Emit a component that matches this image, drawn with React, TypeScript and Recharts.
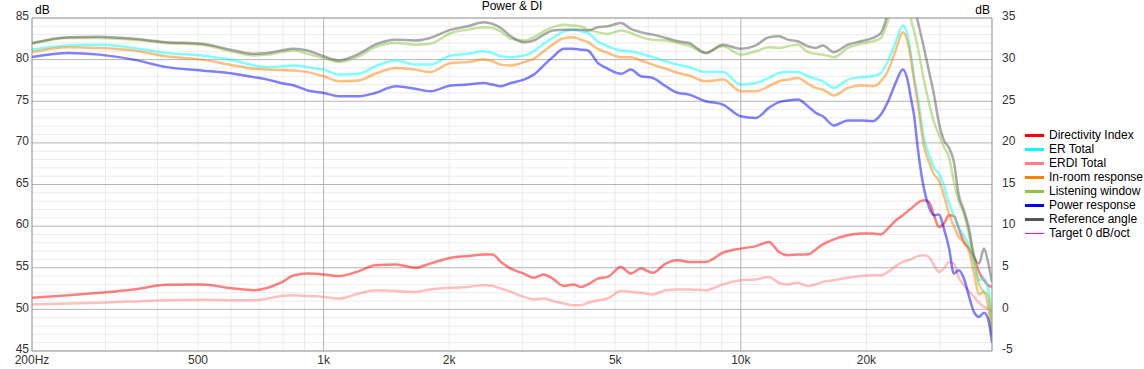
import { LineChart, Line, XAxis, YAxis, CartesianGrid, ReferenceLine } from 'recharts';

// frequency points (Hz)
const FREQS = [
  200, 245, 290, 350, 420, 510, 610, 680, 735, 790,
  850, 915, 1000, 1090, 1215, 1330, 1490, 1660, 1800, 2020,
  2215, 2420, 2540, 2660, 2810, 3020, 3190, 3370, 3540, 3770,
  3960, 4130, 4300, 4540, 4800, 5160, 5450, 5760, 6150, 6610,
  7060, 7510, 8240, 9060, 10000, 10870, 11670, 12340, 12970, 13700,
  14480, 15130, 15730, 16710, 18060, 19400, 20730, 21660, 22510, 23540,
  24460, 25140, 25560, 26000, 26580, 27480, 28250, 29040, 29850, 30680,
  31540, 32420, 33300, 34250, 35220, 36210, 37230, 38270, 39130, 40000,
];

// left axis, dB SPL
const REFERENCE = [
  82.0, 82.7, 82.75, 82.5, 82.1, 81.9, 81.1, 80.7, 80.8, 81.1,
  81.3, 81.1, 80.4, 79.9, 80.7, 81.8, 82.4, 82.3, 82.6, 83.6,
  84.0, 84.5, 84.3, 83.8, 82.8, 82.1, 82.3, 83.0, 83.5, 83.6,
  83.6, 83.6, 83.5, 83.9, 84.0, 84.4, 83.7, 83.3, 83.0, 82.6,
  82.2, 82.0, 80.8, 81.8, 81.3, 81.7, 82.7, 82.8, 82.4, 82.2,
  81.6, 81.4, 81.7, 80.9, 81.8, 82.2, 82.6, 83.2, 85.5, 88.5,
  91.0, 90.5, 89.0, 86.5, 84.5, 81.4, 78.6, 75.8, 72.4, 70.3,
  69.4, 67.7, 63.7, 61.9, 59.7, 56.5, 55.5, 57.3, 55.7, 53.3,
];
const LISTENING = [
  81.9, 82.6, 82.6, 82.4, 82.0, 81.8, 80.9, 80.5, 80.6, 80.9,
  81.1, 80.7, 80.2, 79.7, 80.4, 81.5, 82.0, 81.8, 81.9, 83.2,
  83.6, 83.9, 83.8, 83.4, 82.5, 82.3, 82.7, 83.4, 83.9, 84.2,
  84.1, 84.0, 83.6, 83.3, 83.1, 83.5, 83.2, 82.7, 82.4, 82.3,
  82.0, 81.7, 80.8, 81.6, 80.6, 81.0, 81.5, 81.4, 81.6, 81.8,
  80.9, 80.7, 80.6, 80.3, 81.4, 81.9, 82.2, 82.6, 84.6, 87.0,
  89.0, 88.0, 85.0, 83.5, 81.4, 77.5, 74.8, 72.5, 71.0, 69.5,
  68.3, 65.3, 63.0, 61.5, 59.0, 56.0, 53.0, 52.1, 51.7, 46.8,
];
const ER_TOTAL = [
  81.2, 81.7, 81.8, 81.4, 80.8, 80.5, 79.9, 79.3, 79.1, 79.2,
  79.3, 79.1, 78.8, 78.2, 78.3, 79.2, 79.9, 79.4, 79.4, 80.5,
  80.7, 81.0, 80.8, 80.4, 80.3, 80.5, 81.0, 81.9, 82.6, 83.4,
  83.6, 83.4, 83.2, 82.2, 81.6, 81.1, 81.0, 80.7, 80.3, 79.8,
  79.4, 79.1, 78.5, 78.5, 77.0, 77.2, 77.8, 78.4, 78.5, 78.5,
  78.0, 77.7, 77.4, 76.6, 77.6, 77.9, 78.0, 78.4, 79.8, 82.2,
  84.1, 82.8, 80.6, 78.0, 75.4, 70.5, 68.6, 67.0, 66.3, 64.9,
  62.8, 61.2, 59.8, 58.9, 57.6, 55.6, 53.5, 53.7, 52.5, 49.3,
];
const IN_ROOM = [
  80.9, 81.5, 81.4, 81.1, 80.4, 80.0, 79.3, 78.9, 78.8, 78.75,
  78.7, 78.5, 78.0, 77.4, 77.5, 78.3, 79.0, 78.8, 78.5, 79.6,
  79.7, 80.0, 79.8, 79.4, 79.3, 79.7, 80.1, 81.0, 81.8, 82.6,
  82.7, 82.4, 82.1, 81.3, 80.8, 80.3, 80.3, 79.9, 79.4, 78.9,
  78.4, 78.1, 77.4, 77.6, 76.2, 76.2, 76.8, 77.4, 77.6, 77.8,
  77.1, 76.6, 76.4, 75.7, 76.6, 76.9, 76.8, 77.4, 78.6, 81.2,
  83.3, 82.0, 80.2, 77.6, 74.6, 69.6, 67.7, 66.2, 65.5, 63.7,
  61.5, 60.0, 58.7, 58.1, 57.0, 54.3, 51.8, 52.1, 50.5, 46.8,
];
const POWER = [
  80.3, 80.8, 80.6, 80.0, 79.1, 78.7, 78.3, 77.9, 77.6, 77.2,
  76.9, 76.3, 76.0, 75.6, 75.6, 76.0, 76.8, 76.5, 76.2, 76.9,
  77.0, 77.2, 77.0, 76.8, 77.2, 77.6, 78.2, 79.3, 80.3, 81.3,
  81.3, 81.2, 81.1, 79.6, 78.9, 78.3, 78.8, 78.0, 77.8, 76.8,
  76.0, 75.8, 75.0, 74.6, 73.2, 73.0, 74.2, 74.9, 75.1, 75.2,
  74.4, 73.6, 73.2, 72.1, 72.7, 72.7, 72.6, 73.4, 74.9, 77.3,
  78.8, 77.4, 75.4, 73.4, 69.2, 64.5, 62.3, 61.3, 61.4, 59.7,
  57.4, 54.3, 54.7, 53.7, 51.6, 49.7, 49.1, 49.6, 48.9, 46.0,
];

// right axis, dB
const DI = [
  1.4, 1.7, 2.0, 2.4, 2.95, 3.0, 2.5, 2.3, 2.6, 3.2,
  4.1, 4.3, 4.2, 4.0, 4.6, 5.3, 5.4, 5.0, 5.5, 6.2,
  6.4, 6.6, 6.6, 5.7, 4.9, 4.3, 3.8, 4.2, 3.7, 2.8,
  3.0, 2.7, 3.0, 3.7, 3.9, 5.1, 4.3, 4.9, 4.4, 5.5,
  5.9, 5.7, 5.7, 6.8, 7.3, 7.6, 8.1, 6.9, 6.5, 6.6,
  6.6, 7.2, 7.8, 8.4, 8.9, 9.1, 9.1, 9.0, 9.7, 10.7,
  11.3, 11.8, 12.1, 12.4, 12.8, 13.1, 12.9, 11.3, 9.9, 10.3,
  11.3, 11.2, 9.7, 8.1, 7.3, 6.2, 4.5, 3.5, 2.9, 2.7,
];
const ERDI = [
  0.6, 0.7, 0.8, 0.95, 1.1, 1.15, 1.1, 1.1, 1.3, 1.6,
  1.7, 1.6, 1.5, 1.3, 1.9, 2.3, 2.2, 2.1, 2.4, 2.6,
  2.7, 2.9, 2.8, 2.5, 2.1, 1.5, 1.2, 1.3, 1.0, 0.7,
  0.5, 0.5, 0.8, 1.1, 1.3, 2.2, 2.1, 2.0, 1.8, 2.3,
  2.4, 2.4, 2.3, 3.0, 3.5, 3.6, 3.9, 3.2, 3.0, 3.2,
  2.8, 3.0, 3.3, 3.5, 3.8, 4.0, 4.1, 4.1, 4.5, 5.2,
  5.7, 5.9, 6.0, 6.2, 6.4, 6.5, 6.3, 5.3, 4.5, 4.9,
  5.7, 5.5, 3.8, 2.9, 2.2, 1.5, 0.8, 0.3, 0.1, -0.3,
];

const X_TICKS = [200, 500, 1000, 2000, 5000, 10000, 20000];
const LEFT_TICKS = [45, 50, 55, 60, 65, 70, 75, 80, 85];
const RIGHT_TICKS = [-5, 0, 5, 10, 15, 20, 25, 30, 35];
const MINOR_F = [300, 400, 500, 600, 700, 800, 900, 2000, 3000, 4000, 5000, 6000, 7000, 8000, 9000, 20000, 30000];
const MAJOR_F = [1000, 10000];
const MINOR_DB = [
  46, 47, 48, 49, 51, 52, 53, 54, 56, 57, 58, 59, 61, 62, 63, 64, 66, 67, 68, 69,
  71, 72, 73, 74, 76, 77, 78, 79, 81, 82, 83, 84,
];
const MAJOR_DB = [50, 55, 60, 65, 70, 75, 80];

const SERIES = [
  { key: 'di', name: 'Directivity Index', color: '#ff0000', axis: 'right' },
  { key: 'er', name: 'ER Total', color: '#00ffff', axis: 'left' },
  { key: 'erdi', name: 'ERDI Total', color: '#ff8080', axis: 'right' },
  { key: 'inroom', name: 'In-room response', color: '#ff8000', axis: 'left' },
  { key: 'lw', name: 'Listening window', color: '#8cc63f', axis: 'left' },
  { key: 'power', name: 'Power response', color: '#0000ff', axis: 'left' },
  { key: 'ref', name: 'Reference angle', color: '#555555', axis: 'left' },
];

const LEGEND = [
  ...SERIES.map((s) => ({ name: s.name, color: s.color, thin: false })),
  { name: 'Target 0 dB/oct', color: '#ff00ff', thin: true },
];

const rows = FREQS.map((f, i) => ({
  f,
  ref: REFERENCE[i],
  lw: LISTENING[i],
  er: ER_TOTAL[i],
  inroom: IN_ROOM[i],
  power: POWER[i],
  di: DI[i],
  erdi: ERDI[i],
}));

const FONT = '"Liberation Sans", Arial, sans-serif';

const fmtFreq = (v: number) => {
  if (v === 200) return '200Hz';
  if (v >= 1000) return `${v / 1000}k`;
  return String(v);
};

export default function App() {
  const tickStyle = { fill: '#333', fontSize: 12, fontFamily: FONT };
  const yTickStyle = { ...tickStyle, dy: -2 };
  return (
    <div style={{ position: 'absolute', left: 0, top: 0, width: 1144, height: 369, background: '#fff', fontFamily: FONT }}>
      <LineChart width={1144} height={369} data={rows} margin={{ top: 18, right: 0, bottom: 0, left: 0 }}>
        <CartesianGrid xAxisId="x" yAxisId="left" stroke="#ebebeb" fill="none"
          verticalValues={MINOR_F} horizontalValues={MINOR_DB} />
        <CartesianGrid xAxisId="x" yAxisId="left" stroke="#b4b4b4" fill="none"
          verticalValues={MAJOR_F} horizontalValues={MAJOR_DB} />
        <XAxis xAxisId="x" dataKey="f" type="number" scale="log" domain={[200, 40000]} allowDataOverflow
          ticks={X_TICKS} interval={0} tickFormatter={fmtFreq} height={18}
          tickLine={false} tickSize={0} tickMargin={4} stroke="#888" tick={tickStyle} />
        <YAxis yAxisId="left" orientation="left" domain={[45, 85]} ticks={LEFT_TICKS} interval={0}
          allowDataOverflow width={32} tickLine={false} tickSize={0} tickMargin={3} stroke="#888" tick={yTickStyle} />
        <YAxis yAxisId="right" orientation="right" domain={[-5, 35]} ticks={RIGHT_TICKS} interval={0}
          allowDataOverflow width={152} tickLine={false} tickSize={0} tickMargin={10} stroke="#888" tick={yTickStyle} />
        <ReferenceLine xAxisId="x" yAxisId="left" y={85} stroke="#888" />
        {SERIES.map((s) => (
          <Line key={s.key} xAxisId="x" yAxisId={s.axis} dataKey={s.key} name={s.name} type="monotone"
            stroke={s.color} strokeOpacity={0.5} strokeWidth={2.5} dot={false} isAnimationActive={false} />
        ))}
      </LineChart>

      <div style={{ position: 'absolute', left: 412, top: -1, width: 200, textAlign: 'center', fontSize: 12, lineHeight: '14px', color: '#000' }}>
        Power &amp; DI
      </div>
      <div style={{ position: 'absolute', left: 35, top: 3, fontSize: 12, lineHeight: '14px', color: '#000' }}>dB</div>
      <div style={{ position: 'absolute', left: 940, top: 3, width: 50, textAlign: 'right', fontSize: 12, lineHeight: '14px', color: '#000' }}>dB</div>

      {LEGEND.map((item, i) => (
        <div key={item.name} style={{ position: 'absolute', left: 1025, top: 128 + i * 14.05, height: 14, display: 'flex', alignItems: 'center' }}>
          <div style={{ width: 19, height: item.thin ? 1 : 3, background: item.color }} />
          <span style={{ marginLeft: 5, fontSize: 12, lineHeight: '14px', color: '#000', whiteSpace: 'nowrap' }}>{item.name}</span>
        </div>
      ))}
    </div>
  );
}
